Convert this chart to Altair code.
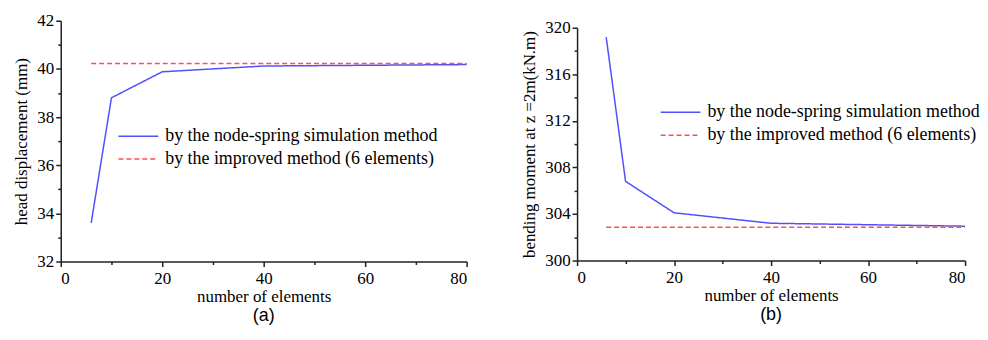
import altair as alt
import pandas as pd

# ---- data ----
elements = [6, 10, 20, 40, 80]
disp_node = [33.6, 38.8, 39.88, 40.12, 40.18]
disp_improved = [40.22, 40.22]
moment_node = [319.2, 306.8, 304.1, 303.2, 302.95]
moment_improved = [302.85, 302.85]
improved_range = [6, 80]
series_names = ["by the node-spring simulation method", "by the improved method (6 elements)"]
series_colors = ["#5050ff", "#ff4f4f"]
panel_labels = ["(a)", "(b)"]
x_ticks = [0, 20, 40, 60, 80]
x_minor = [10, 30, 50, 70]
disp_ticks = [32, 34, 36, 38, 40, 42]
disp_minor = [33, 35, 37, 39, 41]
moment_ticks = [300, 304, 308, 312, 316, 320]
moment_minor = [302, 306, 310, 314, 318]

SERIF = "Times New Roman, Liberation Serif, DejaVu Serif, serif"
SANS = "Arial, Liberation Sans, sans-serif"


def make_df(node, improved):
    rows = [{"n": n, "v": v, "s": series_names[0]} for n, v in zip(elements, node)]
    rows += [{"n": n, "v": v, "s": series_names[1]} for n, v in zip(improved_range, improved)]
    return pd.DataFrame(rows)


def panel(df, ytitle, ydom, yt, ym, lx, ly, w, h, label):
    legend = alt.Legend(
        title=None, orient="none", legendX=lx, legendY=ly,
        symbolType="stroke", symbolSize=1600, symbolStrokeWidth=1.5,
        labelFont=SERIF, labelFontSize=18, labelLimit=0, labelColor="black",
        clipHeight=20, rowPadding=3, padding=0, labelOffset=6,
    )
    xs = alt.Scale(domain=[0, 80], nice=False)
    ys = alt.Scale(domain=ydom, nice=False, zero=False)
    base = alt.Chart(df)
    main = base.mark_line(strokeWidth=1.5).encode(
        x=alt.X("n:Q", scale=xs, axis=alt.Axis(values=x_ticks, title="number of elements",
                                                orient="bottom", titlePadding=2, labelPadding=4)),
        y=alt.Y("v:Q", scale=ys, axis=alt.Axis(values=yt, title=ytitle, orient="left",
                                                titlePadding=6, labelPadding=2)),
        color=alt.Color("s:N", scale=alt.Scale(domain=series_names, range=series_colors), legend=legend),
        strokeDash=alt.StrokeDash("s:N", scale=alt.Scale(domain=series_names, range=[[1, 0], [5, 3]]),
                                  legend=legend),
    )
    minor = base.mark_point(opacity=0).encode(
        x=alt.X("n:Q", scale=xs, axis=alt.Axis(values=x_minor, labels=False, domain=False,
                                                title=None, tickSize=3, orient="bottom")),
        y=alt.Y("v:Q", scale=ys, axis=alt.Axis(values=ym, labels=False, domain=False,
                                                title=None, tickSize=3, orient="left")),
    )
    return alt.layer(main, minor).resolve_axis(x="independent", y="independent").properties(
        width=w, height=h,
        title=alt.TitleParams(label, orient="bottom", font=SANS, fontSize=18,
                              fontWeight="normal", offset=3, anchor="middle", color="black"),
    )


left = panel(make_df(disp_node, disp_improved), "head displacement (mm)", [32, 42],
             disp_ticks, disp_minor, 57, 106, 408, 242, panel_labels[0])
right = panel(make_df(moment_node, moment_improved), "bending moment at z =2m(kN.m)", [300, 320],
              moment_ticks, moment_minor, 83, 75, 390, 234, panel_labels[1])

spacer = alt.Chart(pd.DataFrame({"a": [0]})).mark_point(opacity=0, size=1).properties(width=1, height=7)
right_col = alt.vconcat(spacer, right, spacing=0, bounds="flush").resolve_scale(
    color="independent", strokeDash="independent")

chart = alt.hconcat(left, right_col, spacing=111, bounds="flush").resolve_scale(
    color="independent", strokeDash="independent"
).resolve_legend(color="independent", strokeDash="independent").properties(
    padding={"left": 5, "top": 3, "right": 0, "bottom": 0}
).configure_view(
    stroke=None
).configure_axis(
    labelFont=SERIF, labelFontSize=17, titleFont=SERIF, titleFontSize=17, titleFontWeight="normal",
    labelColor="black", titleColor="black", domainColor="#222", tickColor="#222",
    domainWidth=1.5, tickWidth=1.5, tickSize=5, grid=False,
)

chart.save("out.html", embed_options={"renderer": "svg", "actions": False})
